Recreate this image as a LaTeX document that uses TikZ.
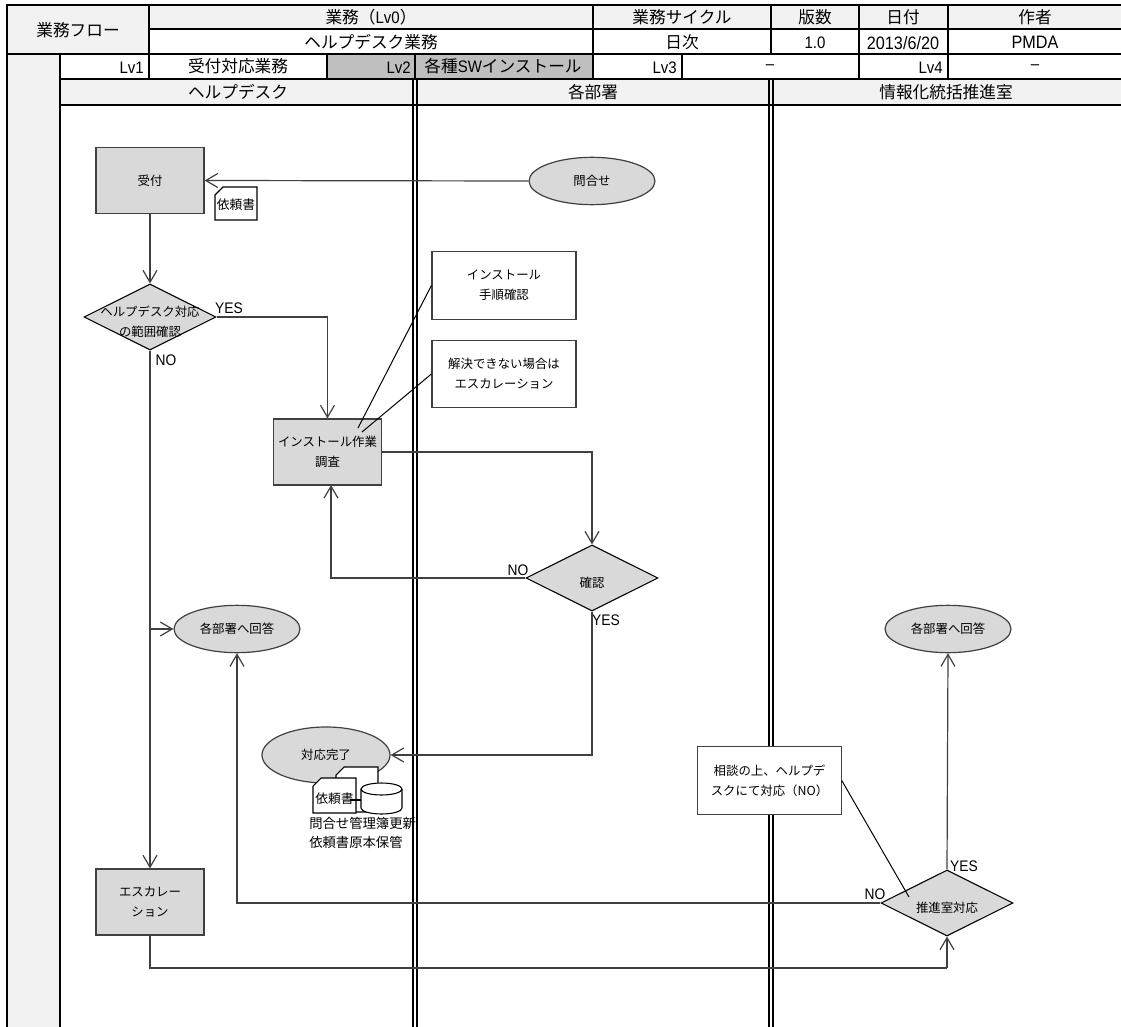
\documentclass[tikz,border=0pt]{standalone}
\usepackage{fontspec}
\setmainfont{Noto Sans CJK JP}
\newfontfamily\latinfont[FakeStretch=0.9]{Liberation Sans}
\usetikzlibrary{arrows.meta,shapes.geometric,backgrounds}
\definecolor{headCol}{HTML}{F2F2F2}
\definecolor{lvCol}{HTML}{BFBFBF}
\definecolor{stepCol}{HTML}{D9D9D9}
\definecolor{flowCol}{HTML}{404040}

\begin{document}
\begin{tikzpicture}[x=0.75pt,y=-0.75pt,>={Straight Barb[length=9pt,width=10.5pt]},
  cell/.style={font=\fontsize{12.5}{15}\selectfont,inner sep=0pt},
  lvtag/.style={font=\fontsize{12.5}{15}\selectfont\latinfont,inner sep=0pt,anchor=east},
  rule/.style={line width=1.6pt,black},
  stepbox/.style={draw=flowCol,fill=#1,line width=0.9pt,minimum width=81pt,minimum height=49.5pt,
    align=center,inner sep=0pt,font=\fontsize{9.3}{15}\selectfont},
  notebox/.style={stepbox=white,minimum width=#1,minimum height=50.5pt},
  endpoint/.style={draw=flowCol,fill=stepCol,line width=0.9pt,ellipse,minimum width=94.5pt,minimum height=35.5pt,
    inner sep=0pt,font=\fontsize{9.3}{15}\selectfont},
  decision/.style={draw=black,fill=stepCol,line width=0.8pt,diamond,minimum width=99pt,minimum height=49.5pt,inner sep=0pt},
  decisiontext/.style={align=center,inner sep=0pt,yshift=-3.5pt,font=\fontsize{9.3}{15}\selectfont},
  docline/.style={draw=black,fill=white,line width=0.8pt},
  doctext/.style={inner sep=0pt,font=\fontsize{9.6}{12}\selectfont},
  flow/.style={->,draw=flowCol,line width=0.9pt},
  link/.style={draw=flowCol,line width=0.9pt},
  callout/.style={draw=black,line width=0.75pt},
  answer/.style={font=\fontsize{11.5}{13}\selectfont\latinfont,inner sep=0pt},
]
\useasboundingbox (0,0) rectangle (1121,1027);

\begin{scope}[on background layer]
  \fill[headCol] (7,5) rectangle (149,54);
  \fill[headCol] (149,5) rectangle (1121,29);
  \fill[headCol] (7,54) rectangle (60,1027);
  \fill[headCol] (60,79) rectangle (1121,105);
  \fill[lvCol] (327,54) rectangle (593,79);
  \foreach \rowy in {5,54,79,105}
    \draw[rule] (60,\rowy) -- (1121,\rowy);
  \draw[rule] (7,5) -- (60,5) (7,54) -- (60,54) (149,29) -- (1121,29);
  \draw[rule] (7,4) -- (7,1027) (60,54) -- (60,1027);
  \draw[rule] (149,5) -- (149,79) (327,54) -- (327,79) (415,54) -- (415,79);
  \foreach \colx in {593,859,948}
    \draw[rule] (\colx,5) -- (\colx,79);
  \draw[rule] (771,5) -- (771,54) (682,54) -- (682,79);
  \foreach \lanex in {415,771} {
    \draw[line width=1.5pt] (\lanex-1.7,79) -- (\lanex-1.7,1027);
    \draw[line width=1.5pt] (\lanex+1.7,79) -- (\lanex+1.7,1027);
  }
\end{scope}

\node[cell] (flowtitle) at (78,30) {業務フロー};
\node[cell] (lv0head) at (371,17) {業務（{\latinfont Lv0}）};
\node[cell] (lv0name) at (371,42) {ヘルプデスク業務};
\node[cell] (cyclehead) at (682,17) {業務サイクル};
\node[cell] (cyclename) at (682,42) {日次};
\node[cell] (verhead) at (815,17) {版数};
\node[cell,font=\fontsize{12.5}{15}\selectfont\latinfont] (vername) at (815,43) {1.0};
\node[cell] (datehead) at (903,17) {日付};
\node[cell,font=\fontsize{13.5}{15}\selectfont\latinfont] (datename) at (903,43) {2013/6/20};
\node[cell] (authorhead) at (1035,17) {作者};
\node[cell,font=\fontsize{13.5}{15}\selectfont\latinfont] (authorname) at (1035,42) {PMDA};

\node[lvtag] (lv1) at (144,68) {Lv1};
\node[cell] (lv1name) at (238,66) {受付対応業務};
\node[lvtag] (lv2) at (411,68) {Lv2};
\node[cell] (lv2name) at (503,66) {各種{\latinfont SW}インストール};
\node[lvtag] (lv3) at (677,68) {Lv3};
\node[lvtag,anchor=center] (lv3name) at (770,67) {–};
\node[lvtag] (lv4) at (943,68) {Lv4};
\node[lvtag,anchor=center] (lv4name) at (1035,67) {–};

\node[cell] (helpdesk) at (238,92) {ヘルプデスク};
\node[cell] (depts) at (593,92) {各部署};
\node[cell] (promo) at (946,92) {情報化統括推進室};

\node[stepbox=stepCol] (uketsuke) at (150,180.5) {受付};
\draw[docline] (215,195) -- (223,187) -- (257,187) -- (257,220) -- (215,220) -- cycle;
\node[doctext] (irai) at (236,205) {依頼書};
\node[endpoint] (toiawase) at (592,181) {問合せ};
\node[decision,label={[decisiontext]center:ヘルプデスク対応\\の範囲確認}] (hani) at (150,317) {};
\node[notebox=108pt] (tejun) at (504,285.5) {インストール\\手順確認};
\node[notebox=108pt] (kaiketsu) at (504,374) {解決できない場合は\\エスカレーション};
\node[stepbox=stepCol] (install) at (327.5,452) {インストール作業\\調査};
\node[decision,label={[decisiontext]center:確認}] (kakunin) at (592,578) {};
\node[endpoint] (ans1) at (237,629) {各部署へ回答};
\node[endpoint] (ans2) at (948,629) {各部署へ回答};
\node[endpoint,minimum height=42pt,minimum width=96pt] (kanryo) at (326,755) {対応完了};

\draw[docline] (336,775) -- (344,767) -- (378,767) -- (378,812) -- (336,812) -- cycle;
\draw[docline] (313,786) -- (321,778) -- (356,778) -- (356,813) -- (313,813) -- cycle;
\node[doctext] (iraicopy) at (334.5,799) {依頼書};
\draw[docline] (361,789) -- (361,808) arc[start angle=180,end angle=0,x radius=20.5,y radius=6]
  -- (402,789) arc[start angle=0,end angle=-180,x radius=20.5,y radius=6] -- cycle;
\draw[docline,fill=none] (361,789) arc[start angle=180,end angle=0,x radius=20.5,y radius=6];
\draw[docline] (350,800) -- (361,800);
\node[align=left,inner sep=0pt,font=\fontsize{10}{14.5}\selectfont,anchor=north west] (kanrinote) at (309,817) {問合せ管理簿更新\\依頼書原本保管};

\node[stepbox=stepCol] (esc) at (150,902) {エスカレー\\ション};
\node[notebox=107.5pt] (soudan) at (769.5,780.5) {相談の上、ヘルプデ\\スクにて対応（NO）};
\node[decision,label={[decisiontext]center:推進室対応}] (suishin) at (947,903) {};

\node[answer] (haniyes) at (229,308) {YES};
\node[answer] (hanino) at (166,360) {NO};
\node[answer] (kakuninno) at (518,570) {NO};
\node[answer] (kakuninyes) at (606,620) {YES};
\node[answer] (suishinyes) at (964,866) {YES};
\node[answer] (suishinno) at (875,894) {NO};

\coordinate (backin) at (331,485);
\coordinate (escturn) at (947,968);
\coordinate (tejunend) at (358,428);
\coordinate (kaiketsuend) at (362,432);
\coordinate (soudanend) at (909,897);

\draw[flow] (toiawase.west) -- (uketsuke.east);
\draw[flow] (uketsuke.south) -- (hani.north);
\draw[flow] (hani.east) -| (install.north);
\draw[flow] (hani.south) -- (esc.north);
\draw[flow] (hani.south |- ans1.west) -- (ans1.west);
\draw[flow] (install.east) -| (kakunin.north);
\draw[flow] (kakunin.west) -| (backin);
\draw[flow] (kakunin.south) |- (kanryo.east);
\draw[flow] (suishin.north) -- (ans2.south);
\draw[flow] (suishin.west) -| (ans1.south);
\draw[link] (esc.south) |- (escturn);
\draw[flow] (escturn) -- (suishin.south);

\draw[callout] (tejun.west) -- (tejunend);
\draw[callout] (kaiketsu.west) -- (kaiketsuend);
\draw[callout] (soudan.east) -- (soudanend);

\end{tikzpicture}
\end{document}
